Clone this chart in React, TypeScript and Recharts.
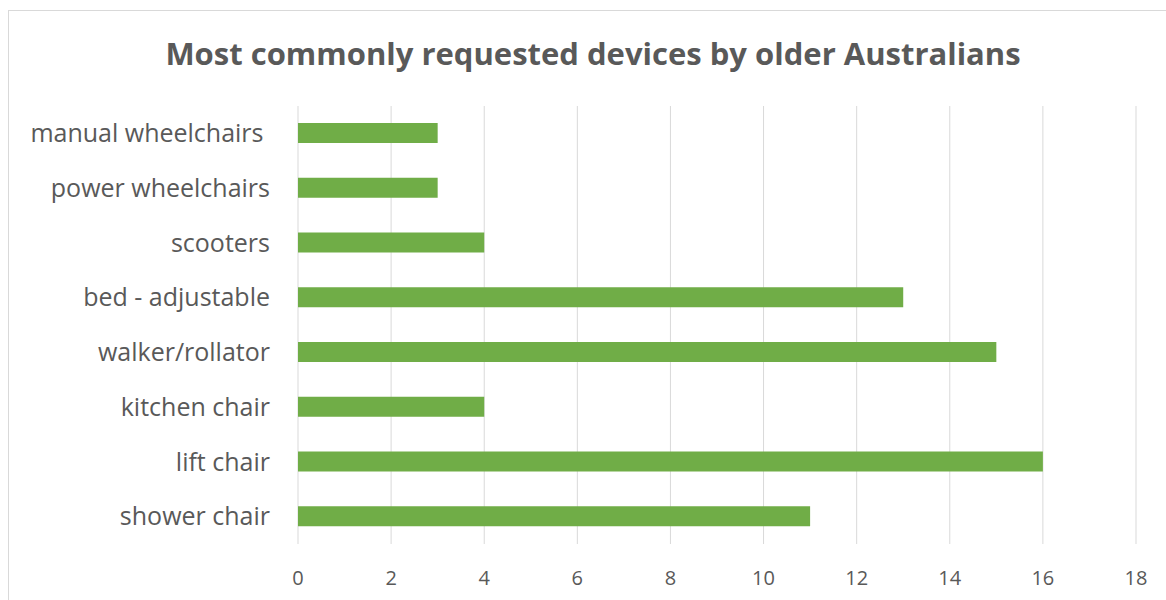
import { BarChart, Bar, XAxis, YAxis, CartesianGrid } from 'recharts';

const devices = [
  'manual wheelchairs ',
  'power wheelchairs',
  'scooters',
  'bed - adjustable',
  'walker/rollator',
  'kitchen chair',
  'lift chair',
  'shower chair'
];
const requests = [3, 3, 4, 13, 15, 4, 16, 11];
const xTicks = [0, 2, 4, 6, 8, 10, 12, 14, 16, 18];

const data = devices.map((name, i) => ({ name, value: requests[i] }));

const FONT = '"Open Sans", "Noto Sans", sans-serif';
const TEXT = '#595959';

// keeps the trailing space of a label, as the original does
const DeviceTick = ({ x, y, payload }: any) => (
  <text
    x={x}
    y={y}
    dy="0.35em"
    textAnchor="end"
    fill={TEXT}
    fontSize={25}
    fontFamily={FONT}
    style={{ whiteSpace: 'pre' }}
  >
    {payload.value}
  </text>
);

const App = () => (
  <div
    style={{
      position: 'fixed',
      left: 0,
      top: 0,
      width: 1166,
      height: 600,
      overflow: 'hidden',
      background: '#fff',
      fontFamily: FONT
    }}
  >
    <div style={{ position: 'absolute', left: 0, top: -18, fontSize: 20, lineHeight: '20px', color: '#404040' }}>
      Chart 3
    </div>
    <div
      style={{
        position: 'absolute',
        left: 8,
        top: 10,
        width: 1170,
        height: 600,
        border: '1px solid #d9d9d9',
        boxSizing: 'border-box'
      }}
    />
    <div
      style={{
        position: 'absolute',
        left: 8,
        width: 1170,
        top: 33,
        lineHeight: '40px',
        textAlign: 'center',
        fontSize: 31,
        fontWeight: 700,
        color: TEXT
      }}
    >
      Most commonly requested devices by older Australians
    </div>
    <div style={{ position: 'absolute', left: 9, top: 11 }}>
      <BarChart
        width={1160}
        height={589}
        data={data}
        layout="vertical"
        margin={{ top: 95, right: 33, bottom: 16, left: 0 }}
        barSize={20}
      >
        <CartesianGrid horizontal={false} stroke="#d9d9d9" />
        <XAxis
          type="number"
          domain={[0, 18]}
          ticks={xTicks}
          axisLine={false}
          tickLine={false}
          tickSize={0}
          tickMargin={27}
          height={40}
          tick={{ fill: TEXT, fontSize: 20, fontFamily: FONT }}
        />
        <YAxis
          type="category"
          dataKey="name"
          width={289}
          axisLine={false}
          tickLine={false}
          tickSize={0}
          tickMargin={28}
          interval={0}
          tick={<DeviceTick />}
        />
        <Bar dataKey="value" fill="#70ad47" isAnimationActive={false} />
      </BarChart>
    </div>
  </div>
);

export default App;
